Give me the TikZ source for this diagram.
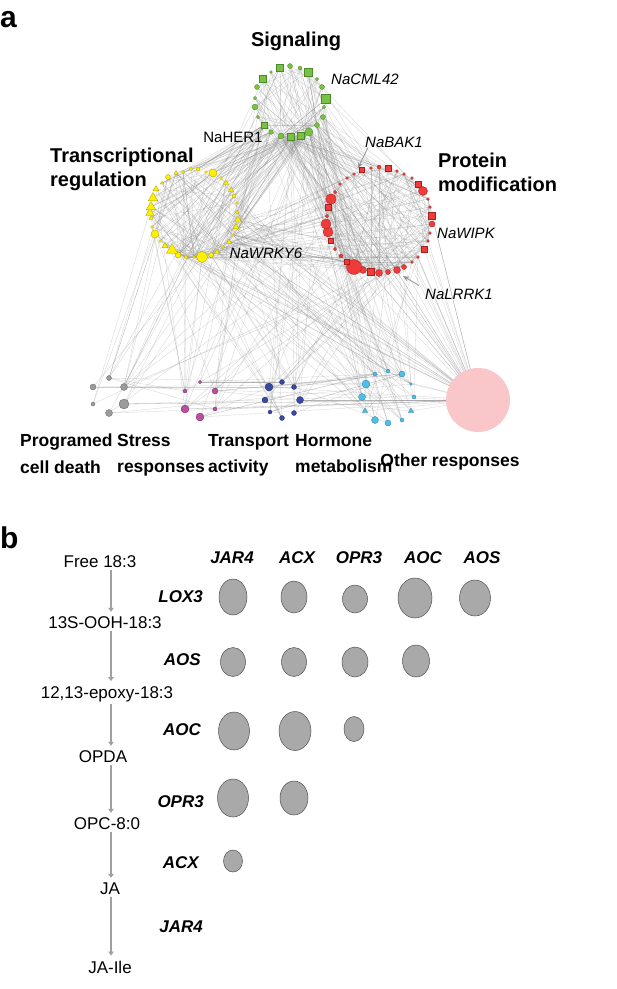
\documentclass[tikz,border=0pt]{standalone}
\usepackage{fontspec}
\setmainfont{Liberation Sans}
\usetikzlibrary{shapes.geometric,arrows.meta,backgrounds}
\definecolor{sigfill}{HTML}{7AC143}\definecolor{sigdraw}{HTML}{4A8A28}
\definecolor{yelfill}{HTML}{FFF000}\definecolor{yeldraw}{HTML}{A89C00}
\definecolor{redfill}{HTML}{EF3B39}\definecolor{reddraw}{HTML}{A61F1F}
\definecolor{gryfill}{HTML}{9B9B9B}\definecolor{grydraw}{HTML}{666666}
\definecolor{magfill}{HTML}{B5519E}\definecolor{magdraw}{HTML}{7A2A6A}
\definecolor{navfill}{HTML}{3B4AA1}\definecolor{navdraw}{HTML}{222D6B}
\definecolor{cyafill}{HTML}{4DBFEA}\definecolor{cyadraw}{HTML}{2A7FA3}
\definecolor{pinkc}{HTML}{F9C6C9}
\definecolor{bubble}{HTML}{A9A9A9}\definecolor{bubbled}{HTML}{505050}
\definecolor{pathgray}{HTML}{A0A0A0}
\tikzset{
  nd/.style={inner sep=0pt, outer sep=0pt, line width=0.3pt},
  tri/.style={regular polygon, regular polygon sides=3},
  sgn/.style={nd, fill=sigfill, draw=sigdraw},
  yln/.style={nd, fill=yelfill, draw=yeldraw},
  rdn/.style={nd, fill=redfill, draw=reddraw},
  gyn/.style={nd, fill=gryfill, draw=grydraw},
  mgn/.style={nd, fill=magfill, draw=magdraw},
  nvn/.style={nd, fill=navfill, draw=navdraw},
  cyn/.style={nd, fill=cyafill, draw=cyadraw},
  lnk/.style={draw=black!45, draw opacity=0.4, line width=0.3pt},
  modlbl/.style={font=\fontsize{20}{24}\selectfont\bfseries, inner sep=0pt, align=left, anchor=north west},
  botlbl/.style={font=\fontsize{17.5}{26.5}\selectfont\bfseries, inner sep=0pt, align=left, anchor=north west},
  gene/.style={font=\fontsize{15}{18}\selectfont\itshape, inner sep=0pt},
  panel/.style={font=\fontsize{30}{32}\selectfont\bfseries, inner sep=0pt, anchor=base west},
  genearr/.style={draw=gray!85, line width=0.8pt, -{Stealth[length=6pt,width=5pt]}},
  hdr/.style={font=\fontsize{17}{20}\selectfont\bfseries\itshape, inner sep=0pt},
  met/.style={font=\fontsize{17}{20}\selectfont, inner sep=0pt},
  pstep/.style={draw=pathgray, line width=1.8pt, -{Triangle[length=4pt,width=5.5pt]}, shorten <=2pt, shorten >=5pt},
  bub/.style={ellipse, fill=bubble, draw=bubbled, line width=0.5pt, inner sep=0pt}
}
\begin{document}
\begin{tikzpicture}[x=1pt,y=-1pt]
\useasboundingbox (0,0) rectangle (617,989);
% ---------------- panel a ----------------
\node[panel] (pa) at (0,27) {a};
% Signaling module
\foreach \x/\y/\s/\d [count=\i] in {280/68/rectangle/7, 290/66/circle/5, 300/68/circle/4, 308/72/rectangle/8,
  317/79/circle/3.5, 322/87/circle/5, 326/99/rectangle/9, 324/107/circle/3.5, 323/117/circle/5, 317/125/circle/5,
  309/132/circle/8, 301/136/rectangle/7, 291/137/rectangle/7, 281/136/circle/6, 271/132/circle/4.5,
  264/125/rectangle/6, 258/117/circle/3.5, 255/107/circle/6, 255/98/circle/3.5, 257/87/circle/5,
  263/79/rectangle/7, 271/72/circle/3}
  \node[sgn,\s,minimum size=\d] (s\i) at (\x,\y) {};
% Transcriptional regulation module
\foreach \x/\y/\s/\d [count=\i] in {168/177/circle/5, 176/173/tri/5, 183/172/circle/3, 191/169/circle/3.5,
  198/169/circle/4, 206/172/circle/3, 213/173/circle/8, 221/178/circle/3, 226/183/tri/6, 231/190/tri/6,
  234/196/circle/4, 237/203/circle/3, 237/212/tri/4, 238/220/tri/8, 236/227/tri/7, 233/235/circle/3,
  229/242/tri/6, 223/247/circle/3, 217/252/tri/6, 211/255/circle/5, 202/257/circle/11, 194/257/circle/3,
  186/257/tri/5, 178/255/circle/6, 172/250/tri/13, 165/246/tri/7, 160/241/circle/3, 155/234/circle/8,
  152/227/circle/3, 151/218/tri/5, 150/213/tri/10, 151/207/tri/11, 153/198/tri/11, 156/189/tri/7, 162/183/tri/4}
  \node[yln,\s,minimum size=\d] (y\i) at (\x,\y) {};
% Protein modification module
\foreach \x/\y/\s/\d [count=\i] in {354/174/circle/3, 362/170/rectangle/5, 371/168/circle/3, 379/167/circle/4,
  388/168/rectangle/6, 397/171/circle/3, 404/174/circle/3, 412/178/circle/3, 418/184/rectangle/6,
  423/191/circle/9, 428/199/circle/3, 430/207/circle/3, 432/216/rectangle/7, 432/224/circle/6,
  430/233/circle/3, 428/241/circle/3, 424/249/rectangle/6, 418/257/circle/3, 412/262/circle/3,
  404/267/circle/5, 397/270/circle/7, 388/272/circle/5, 379/273/circle/7, 371/272/rectangle/7,
  363/270/circle/7, 354/267/circle/15, 347/262/rectangle/5, 341/256/circle/4, 335/249/circle/3.5,
  331/241/rectangle/5, 328/232/circle/10, 326/224/circle/10, 327/216/circle/3.5, 328/207/rectangle/6,
  331/199/circle/10.5, 335/192/circle/3.5, 340/184/circle/3, 347/178/circle/3}
  \node[rdn,\s,minimum size=\d] (r\i) at (\x,\y) {};
% Bottom modules
\foreach \x/\y/\s/\d/\c [count=\i] in {93/387/circle/6/gyn, 109/378/circle/5/gyn, 124/387/circle/7/gyn,
  124/404/circle/10/gyn, 109/413/circle/7/gyn, 93/404/circle/4/gyn,
  200/382/circle/3.5/mgn, 215/391/circle/6/mgn, 215/409/circle/4/mgn, 200/417/circle/8/mgn,
  185/409/circle/8/mgn, 185/391/circle/4/mgn,
  282/382/circle/5/nvn, 294/387/circle/5/nvn, 300/400/circle/7/nvn, 294/413/circle/5/nvn,
  282/418/circle/5/nvn, 270/412/circle/4/nvn, 265/400/circle/6/nvn, 269/387/circle/8/nvn,
  375/374/circle/4/cyn, 388/371/circle/4/cyn, 402/374/circle/6/cyn, 411/384/circle/3/cyn,
  414/397/circle/4/cyn, 411/411/tri/6/cyn, 402/420/circle/4/cyn, 388/423/circle/6/cyn,
  375/420/circle/7/cyn, 365/411/tri/6/cyn, 362/397/circle/7/cyn, 366/384/circle/8/cyn}
  \node[\c,\s,minimum size=\d] (d\i) at (\x,\y) {};
\node[circle, fill=pinkc, inner sep=0pt, minimum size=64] (o) at (478,400) {};
% edges
\begin{pgfonlayer}{background}
\pgfmathsetseed{4242}
\foreach \k in {1,...,55}{\pgfmathrandominteger{\a}{10}{15}\pgfmathrandominteger{\b}{1}{22}\draw[lnk] (s\a.center) -- (s\b.center);}
\foreach \k in {1,...,20}{\pgfmathrandominteger{\a}{1}{22}\pgfmathrandominteger{\b}{1}{22}\draw[lnk] (s\a.center) -- (s\b.center);}
\foreach \k in {1,...,90}{\pgfmathrandominteger{\a}{11}{16}\pgfmathrandominteger{\b}{1}{35}\draw[lnk] (s\a.center) -- (y\b.center);}
\foreach \k in {1,...,70}{\pgfmathrandominteger{\a}{9}{14}\pgfmathrandominteger{\b}{1}{38}\draw[lnk] (s\a.center) -- (r\b.center);}
\foreach \k in {1,...,25}{\pgfmathrandominteger{\a}{1}{22}\pgfmathrandominteger{\b}{1}{38}\draw[lnk] (s\a.center) -- (r\b.center);}
\foreach \k in {1,...,50}{\pgfmathrandominteger{\a}{18}{24}\pgfmathrandominteger{\b}{1}{35}\draw[lnk] (y\a.center) -- (y\b.center);}
\foreach \k in {1,...,20}{\pgfmathrandominteger{\a}{1}{35}\pgfmathrandominteger{\b}{1}{35}\draw[lnk] (y\a.center) -- (y\b.center);}
\foreach \k in {1,...,80}{\pgfmathrandominteger{\a}{1}{38}\pgfmathrandominteger{\b}{1}{38}\draw[lnk] (r\a.center) -- (r\b.center);}
\foreach \k in {1,...,30}{\pgfmathrandominteger{\a}{22}{27}\pgfmathrandominteger{\b}{1}{38}\draw[lnk] (r\a.center) -- (r\b.center);}
\foreach \k in {1,...,55}{\pgfmathrandominteger{\a}{14}{24}\pgfmathrandominteger{\b}{1}{38}\draw[lnk] (y\a.center) -- (r\b.center);}
\foreach \k in {1,...,55}{\pgfmathrandominteger{\a}{1}{35}\pgfmathrandominteger{\b}{1}{32}\draw[lnk] (y\a.center) -- (d\b.center);}
\foreach \k in {1,...,40}{\pgfmathrandominteger{\a}{1}{22}\pgfmathrandominteger{\b}{1}{32}\draw[lnk] (s\a.center) -- (d\b.center);}
\foreach \k in {1,...,40}{\pgfmathrandominteger{\a}{1}{38}\pgfmathrandominteger{\b}{1}{32}\draw[lnk] (r\a.center) -- (d\b.center);}
\foreach \k in {1,...,15}{\pgfmathrandominteger{\a}{1}{35}\draw[lnk] (y\a.center) -- (o.center);}
\foreach \k in {1,...,15}{\pgfmathrandominteger{\a}{1}{38}\draw[lnk] (r\a.center) -- (o.center);}
\foreach \k in {1,...,8}{\pgfmathrandominteger{\a}{1}{22}\draw[lnk] (s\a.center) -- (o.center);}
\foreach \k in {1,...,30}{\pgfmathrandominteger{\a}{1}{32}\pgfmathrandominteger{\b}{1}{32}\draw[lnk] (d\a.center) -- (d\b.center);}
\foreach \k in {1,...,15}{\pgfmathrandominteger{\a}{1}{32}\draw[lnk] (d\a.center) -- (o.center);}
\end{pgfonlayer}
% module labels
\node[font=\fontsize{20}{24}\selectfont\bfseries, inner sep=0pt, anchor=base] (lsig) at (296,46) {Signaling};
\node[modlbl] (ltr) at (50,147.5) {Transcriptional\\regulation};
\node[modlbl] (lpm) at (438,152.5) {Protein\\modification};
\node[font=\fontsize{15}{18}\selectfont, inner sep=0pt] (her) at (233,137) {NaHER1};
\node[gene] (cml) at (365,79) {NaCML42};
\node[gene] (bak) at (394,142) {NaBAK1};
\node[gene] (wipk) at (466,233) {NaWIPK};
\node[gene] (wrky) at (266,253) {NaWRKY6};
\node[gene] (lrrk) at (459,294) {NaLRRK1};
\coordinate (bakend) at (358,168);
\coordinate (lrrkend) at (403,276);
\draw[genearr] ([xshift=3pt]bak.south west) -- (bakend);
\draw[genearr] ([xshift=-6pt,yshift=3pt]lrrk.north west) -- (lrrkend);
\node[botlbl] (lpcd) at (20,434) {Programed\\cell death};
\node[botlbl] (lstr) at (117,434) {Stress\\responses};
\node[botlbl] (ltra) at (208,434) {Transport\\activity};
\node[botlbl] (lhor) at (295,434) {Hormone\\metabolism};
\node[font=\fontsize{17.5}{22}\selectfont\bfseries, inner sep=0pt, anchor=base] (loth) at (450,466) {Other responses};
% ---------------- panel b ----------------
\node[panel] (pb) at (0,548) {b};
\node[met] (f1) at (100,562) {Free 18:3};
\node[met] (f2) at (105,623) {13S-OOH-18:3};
\node[met] (f3) at (107,694) {12,13-epoxy-18:3};
\node[met] (f4) at (103,757) {OPDA};
\node[met] (f5) at (107,824) {OPC-8:0};
\node[met] (f6) at (110,889) {JA};
\node[met] (f7) at (110,967) {JA-Ile};
\coordinate (ax) at (111,0);
\draw[pstep] (f1.south -| ax) -- (f2.north -| ax);
\draw[pstep] (f2.south -| ax) -- (f3.north -| ax);
\draw[pstep] (f3.south -| ax) -- (f4.north -| ax);
\draw[pstep] (f4.south -| ax) -- (f5.north -| ax);
\draw[pstep] (f5.south -| ax) -- (f6.north -| ax);
\draw[pstep] (f6.south -| ax) -- (f7.north -| ax);
% column headers
\node[hdr, anchor=base] (hj) at (232,563) {JAR4};
\node[hdr, anchor=base] (ha) at (297,563) {ACX};
\node[hdr, anchor=base] (ho) at (359,563) {OPR3};
\node[hdr, anchor=base] (hc) at (423,563) {AOC};
\node[hdr, anchor=base] (hs) at (482,563) {AOS};
% row headers
\node[hdr, anchor=base east] (rl) at (203,602) {LOX3};
\node[hdr, anchor=base east] (rs) at (201,665) {AOS};
\node[hdr, anchor=base east] (rc) at (201,735) {AOC};
\node[hdr, anchor=base east] (ro) at (204,807) {OPR3};
\node[hdr, anchor=base east] (ra) at (199,868) {ACX};
\node[hdr, anchor=base east] (rj) at (203,932) {JAR4};
% bubbles
\foreach \x/\y/\rx/\ry/\n in {233/597/14/18/c11, 294/597/13/16/c12, 355/599/12.5/14/c13, 415/598/17/20/c14, 475/598/15.5/18/c15,
  233/662/12.5/14.5/c21, 294/662/12.5/14.5/c22, 355/662/13/15/c23, 416/661/13.5/16/c24,
  234/731/15.5/19/c31, 295/731/16/19.5/c32, 354/729/10/12.5/c33,
  233/798/15.5/19/c41, 294/798/14/17/c42,
  233/861/9.5/11/c51}
  \node[bub, minimum width=2*\rx, minimum height=2*\ry] (\n) at (\x,\y) {};
\end{tikzpicture}
\end{document}
